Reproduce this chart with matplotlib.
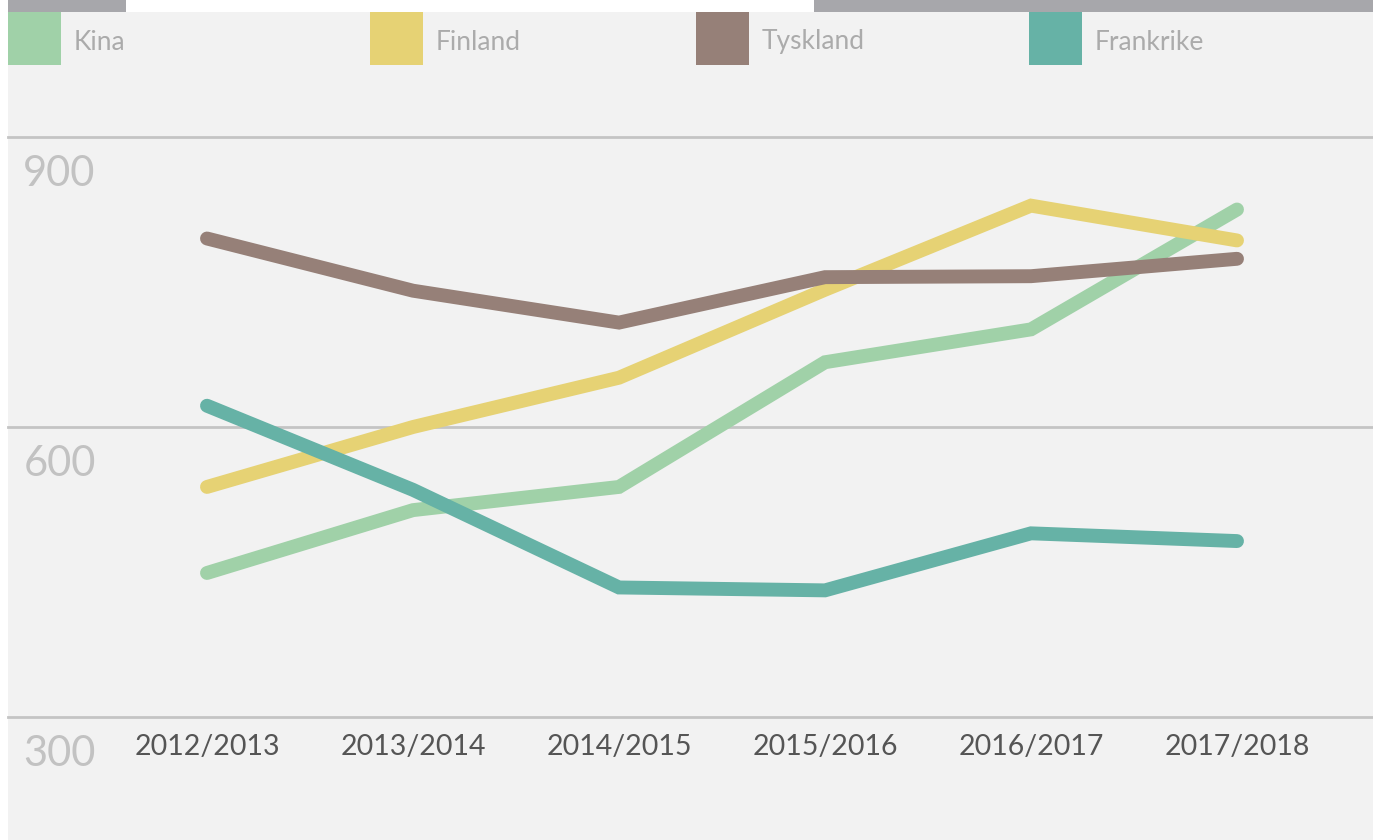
import matplotlib.pyplot as plt
from matplotlib.patches import Rectangle

# Data
years = ['2012/2013', '2013/2014', '2014/2015', '2015/2016', '2016/2017', '2017/2018']
kina = [449, 514, 538, 667, 701, 825]
finland = [538, 600, 651, 742, 829, 793]
tyskland = [795, 741, 708, 755, 756, 774]
frankrike = [622, 535, 434, 431, 490, 482]
series_names = ['Kina', 'Finland', 'Tyskland', 'Frankrike']
colors = ['#a0d1a8', '#e6d274', '#968078', '#66b2a6']
yticks = [300, 600, 900]

plt.rcParams['font.family'] = ['Lato', 'DejaVu Sans']

W, H = 1373, 840
fig = plt.figure(figsize=(W / 100, H / 100), dpi=100)
fig.patch.set_facecolor('#f2f2f2')

# white strip on the left and top bar
fig.patches.append(Rectangle((0, 0), 8 / W, 1, transform=fig.transFigure,
                             facecolor='white', edgecolor='none', zorder=0))
fig.patches.append(Rectangle((0, 1 - 12 / H), 1, 12 / H, transform=fig.transFigure,
                             facecolor='white', edgecolor='none', zorder=0))
fig.patches.append(Rectangle((8 / W, 1 - 12 / H), 118 / W, 12 / H, transform=fig.transFigure,
                             facecolor='#a7a7ab', edgecolor='none', zorder=0))
fig.patches.append(Rectangle((814 / W, 1 - 12 / H), (W - 814) / W, 12 / H, transform=fig.transFigure,
                             facecolor='#a7a7ab', edgecolor='none', zorder=0))

# legend boxes
legend_x = [8, 370, 696, 1029]
for name, c, lx in zip(series_names, colors, legend_x):
    fig.patches.append(Rectangle((lx / W, 1 - 65 / H), 53 / W, 53 / H, transform=fig.transFigure,
                                 facecolor=c, edgecolor='none', zorder=1))
    fig.text((lx + 66) / W, 1 - 42 / H, name, fontsize=19, color='#ababab',
             va='center', ha='left')

# axes: index 0 at x=207px, spacing 206px; y 300..900 between px 717 and 137
ax = fig.add_axes([8 / W, (H - 717) / H, (W - 8) / W, 580 / H])
ax.set_zorder(5)
ax.patch.set_alpha(0)
ax.set_xlim(-(207 - 8) / 206, 5 + (W - 1237) / 206)
ax.set_ylim(300, 900)
for s in ax.spines.values():
    s.set_visible(False)

for v in yticks:
    ax.axhline(v, color='#c4c4c4', linewidth=2, zorder=1, clip_on=False)
    ax.annotate(str(v), xy=(0, v), xycoords=('axes fraction', 'data'),
                xytext=(11, -13), textcoords='offset points',
                fontsize=30, color='#c2c2c2', ha='left', va='top')

x = range(len(years))
for vals, c in zip([kina, finland, tyskland, frankrike], colors):
    ax.plot(x, vals, color=c, linewidth=10, solid_capstyle='round',
            solid_joinstyle='miter', zorder=3, clip_on=False)

ax.set_xticks(list(x))
ax.set_xticklabels(years, fontsize=20.5, color='#555555')
ax.tick_params(axis='x', length=0, pad=12)
ax.set_yticks([])

fig.savefig('out.png', dpi=100, facecolor=fig.get_facecolor())
